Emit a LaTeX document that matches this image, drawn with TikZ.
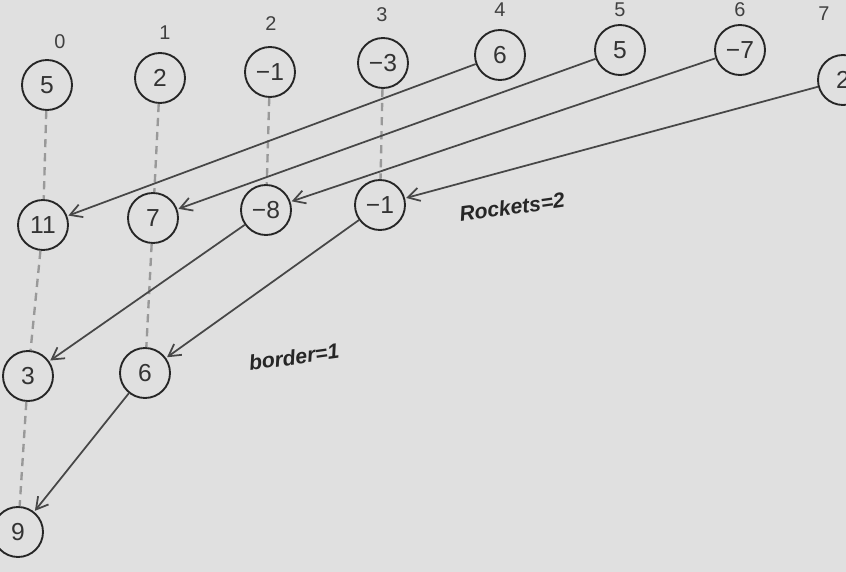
\documentclass[tikz,border=0pt]{standalone}
\usepackage{fontspec}
\setmainfont{Liberation Sans}
\usetikzlibrary{arrows.meta,shapes}

\begin{document}
\begin{tikzpicture}[
    x=0.03cm, y=-0.03cm,
    val/.style={circle, draw=black!85, line width=1.6pt, minimum size=1.5cm, inner sep=0pt, font=\fontsize{21}{21}\selectfont, text=black!80},
    idx/.style={font=\fontsize{17}{17}\selectfont, text=black!75},
    arrow/.style={-{Straight Barb[length=3.5mm,width=4mm]}, line width=1.5pt, draw=black!72, shorten >=1pt},
    link/.style={dash pattern=on 7pt off 5pt, line width=2pt, draw=black!40},
    note/.style={font=\fontsize{18}{18}\selectfont\itshape\bfseries, text=black!85}
]
\useasboundingbox (0,0) rectangle (846,572);
\fill[black!12] (0,0) rectangle (846,572);
\clip (0,0) rectangle (846,572);

% Input row with indices
\node [val] (a0) at (47,85) {5};
\node [val] (a1) at (160,78) {2};
\node [val] (a2) at (270,72) {−1};
\node [val] (a3) at (383,63) {−3};
\node [val] (a4) at (500,55) {6};
\node [val] (a5) at (620,50) {5};
\node [val] (a6) at (740,50) {−7};
\node [val] (a7) at (843,80) {2};

\node [idx] (i0) at (60,42) {0};
\node [idx] (i1) at (165,33) {1};
\node [idx] (i2) at (271,24) {2};
\node [idx] (i3) at (382,15) {3};
\node [idx] (i4) at (500,10) {4};
\node [idx] (i5) at (620,10) {5};
\node [idx] (i6) at (740,10) {6};
\node [idx] (i7) at (824,14) {7};

% Stride 4
\node [val] (b0) at (43,225) {11};
\node [val] (b1) at (153,218) {7};
\node [val] (b2) at (266,210) {−8};
\node [val] (b3) at (380,205) {−1};

% Stride 2
\node [val] (c0) at (28,376) {3};
\node [val] (c1) at (145,373) {6};

% Stride 1
\node [val] (d0) at (18,532) {9};

% Notes
\node [note, rotate=8] (n1) at (512,207) {Rockets=2};
\node [note, rotate=8] (n2) at (294,357) {border=1};

% Dashed links
\draw [link] (a0) -- (b0);
\draw [link] (a1) -- (b1);
\draw [link] (a2) -- (b2);
\draw [link] (a3) -- (b3);
\draw [link] (b0) -- (c0);
\draw [link] (b1) -- (c1);
\draw [link] (c0) -- (d0);

% Arrows
\draw [arrow] (a4) -- (b0);
\draw [arrow] (a5) -- (b1);
\draw [arrow] (a6) -- (b2);
\draw [arrow] (a7) -- (b3);
\draw [arrow] (b2) -- (c0);
\draw [arrow] (b3) -- (c1);
\draw [arrow] (c1) -- (d0);

\end{tikzpicture}
\end{document}
